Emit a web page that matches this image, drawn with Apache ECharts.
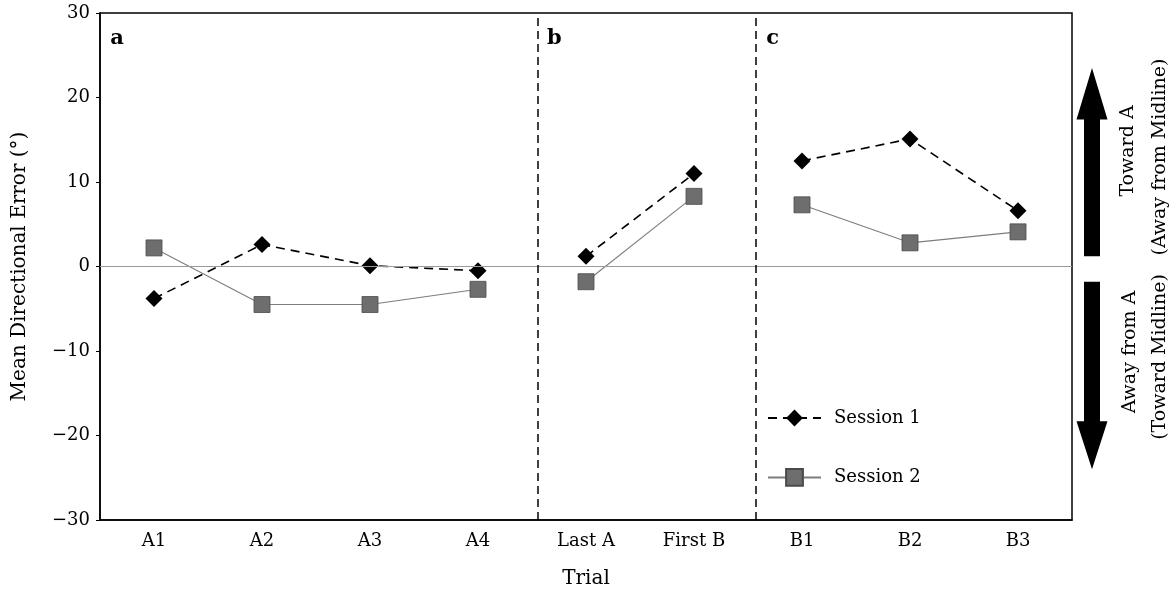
<!DOCTYPE html>
<html>
<head>
<meta charset="utf-8">
<title>Mean Directional Error by Trial</title>
<script src="https://cdn.jsdelivr.net/npm/echarts@6/dist/echarts.min.js"></script>
<style>
  html, body { margin: 0; padding: 0; background: #fff; }
  #chart { width: 1176px; height: 594px; }
</style>
</head>
<body>
<div id="chart"></div>
<script>
// Trial categories along the x axis
const categories = ['A1', 'A2', 'A3', 'A4', 'Last A', 'First B', 'B1', 'B2', 'B3'];
// Mean directional error (degrees) per trial
const session1 = [-3.8, 2.6, 0.1, -0.5, 1.2, 11.0, 12.5, 15.1, 6.6];
const session2 = [2.2, -4.5, -4.5, -2.7, -1.8, 8.3, 7.3, 2.8, 4.1];
// Panels: index ranges of the categories each one spans
const panels = [
  { label: 'a', from: 0, to: 4 },
  { label: 'b', from: 4, to: 6 },
  { label: 'c', from: 6, to: 9 }
];
// Panel dividers, in category-index units
const dividers = [3.55, 5.57];
// Y axis range and step
const yMin = -30, yMax = 30, yStep = 10;
// Direction arrows (values on the y axis): shaft end, head base, tip
const upArrow = { start: 1.2, headBase: 17.4, tip: 23.5 };
const downArrow = { start: -1.8, headBase: -18.3, tip: -24.0 };

const FONT = 'DejaVu Serif';

function panelData(values, p) {
  return values.map((v, i) => (i >= p.from && i < p.to ? v : '-'));
}

const s1Style = {
  type: 'line',
  name: 'Session 1',
  symbol: 'diamond',
  symbolSize: 17,
  itemStyle: { color: '#000' },
  lineStyle: { color: '#000', width: 1.6, type: [9, 6] },
  z: 4
};
const s2Style = {
  type: 'line',
  name: 'Session 2',
  symbol: 'rect',
  symbolSize: 16,
  itemStyle: { color: '#6e6e6e', borderColor: '#4a4a4a', borderWidth: 0.8 },
  lineStyle: { color: '#7d7d7d', width: 1.1, type: 'solid' },
  z: 3
};

const series = [];
panels.forEach(p => {
  series.push(Object.assign({}, s1Style, { data: panelData(session1, p) }));
});
panels.forEach(p => {
  series.push(Object.assign({}, s2Style, { data: panelData(session2, p) }));
});

// Reference lines: zero line and dashed panel dividers
series.push({
  type: 'scatter',
  name: 'guides',
  xAxisIndex: 1,
  yAxisIndex: 0,
  data: [],
  silent: true,
  z: 1,
  markLine: {
    silent: true,
    symbol: ['none', 'none'],
    label: { show: false },
    animation: false,
    data: [
      { yAxis: 0, lineStyle: { color: '#9a9a9a', width: 1, type: 'solid' } },
      ...dividers.map(x => ({ xAxis: x, lineStyle: { color: '#000', width: 1.5, type: [8, 5] } }))
    ]
  }
});

const chart = echarts.init(document.getElementById('chart'));
chart.setOption({
  animation: false,
  backgroundColor: '#fff',
  textStyle: { fontFamily: FONT },
  grid: {
    left: 100, right: 104, top: 13, bottom: 73,
    show: true, borderColor: '#000', borderWidth: 1.5, backgroundColor: 'transparent'
  },
  legend: {
    data: ['Session 1', 'Session 2'],
    orient: 'vertical',
    left: 767,
    top: 409,
    padding: 0,
    itemWidth: 53,
    itemHeight: 21,
    itemGap: 41,
    textStyle: { fontFamily: FONT, fontSize: 18, color: '#000', padding: [0, 0, 0, 8] }
  },
  xAxis: [
    {
      type: 'category',
      data: categories,
      boundaryGap: true,
      name: 'Trial',
      nameLocation: 'middle',
      nameGap: 49,
      nameTextStyle: { fontFamily: FONT, fontSize: 20, color: '#000' },
      axisLine: { onZero: false, lineStyle: { color: '#000', width: 1.5 } },
      axisTick: { show: false },
      axisLabel: { fontFamily: FONT, fontSize: 18, color: '#000', margin: 12 },
      splitLine: { show: false }
    },
    {
      type: 'value',
      min: -0.5,
      max: categories.length - 0.5,
      show: false,
      axisLine: { onZero: false },
      splitLine: { show: false }
    }
  ],
  yAxis: {
    type: 'value',
    min: yMin,
    max: yMax,
    interval: yStep,
    name: 'Mean Directional Error (°)',
    nameLocation: 'middle',
    nameGap: 70,
    nameTextStyle: { fontFamily: FONT, fontSize: 20, color: '#000' },
    axisLine: { show: true, onZero: false, lineStyle: { color: '#000', width: 1.5 } },
    axisTick: { show: true, length: 4, lineStyle: { color: '#000' } },
    axisLabel: {
      fontFamily: FONT, fontSize: 18, color: '#000', margin: 10,
      formatter: v => (v < 0 ? '\u2212' + Math.abs(v) : String(v))
    },
    splitLine: { show: false }
  },
  series: series
});

// Panel letters, direction arrows and their captions
function yPx(v) { return chart.convertToPixel({ yAxisIndex: 0 }, v); }
function xPx(v) { return chart.convertToPixel({ xAxisIndex: 1 }, v); }

const arrowX = 1092, shaftHalf = 8, headHalf = 15.5;
function arrowPoints(a) {
  const y0 = yPx(a.start), yb = yPx(a.headBase), yt = yPx(a.tip);
  return [
    [arrowX - shaftHalf, y0], [arrowX - shaftHalf, yb], [arrowX - headHalf, yb],
    [arrowX, yt], [arrowX + headHalf, yb], [arrowX + shaftHalf, yb], [arrowX + shaftHalf, y0]
  ];
}

const letterX = [xPx(-0.5) + 17, xPx(dividers[0]) + 17, xPx(dividers[1]) + 17];
const graphics = panels.map((p, i) => ({
  type: 'text',
  silent: true,
  style: {
    x: letterX[i], y: 39, text: p.label,
    font: 'bold 21px "' + FONT + '"', fill: '#000',
    textAlign: 'center', textVerticalAlign: 'middle'
  }
}));

graphics.push(
  { type: 'polygon', silent: true, shape: { points: arrowPoints(upArrow) }, style: { fill: '#000' } },
  { type: 'polygon', silent: true, shape: { points: arrowPoints(downArrow) }, style: { fill: '#000' } }
);

const captions = [
  { text: 'Toward A', x: 1128, y: 151 },
  { text: '(Away from Midline)', x: 1160, y: 157 },
  { text: 'Away from A', x: 1130, y: 352 },
  { text: '(Toward Midline)', x: 1160, y: 357 }
];
captions.forEach(c => {
  graphics.push({
    type: 'text',
    silent: true,
    x: c.x, y: c.y,
    rotation: Math.PI / 2,
    style: {
      x: 0, y: 0, text: c.text,
      font: '19px "' + FONT + '"', fill: '#000',
      textAlign: 'center', textVerticalAlign: 'middle'
    }
  });
});

chart.setOption({ graphic: graphics });
</script>
</body>
</html>
